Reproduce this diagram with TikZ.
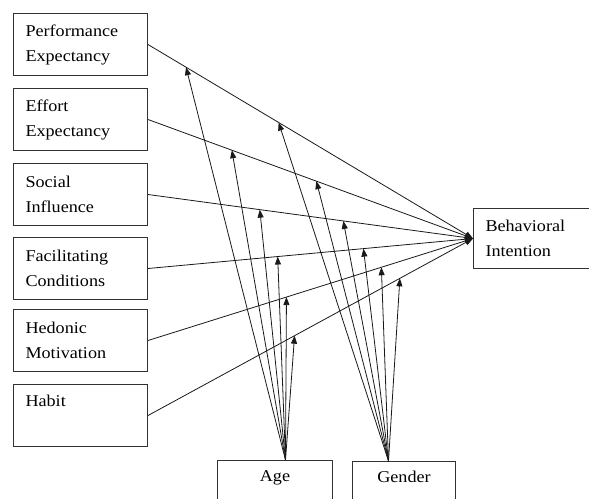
\documentclass[tikz,border=0pt]{standalone}
\usepackage{fontspec}
\setmainfont[FakeStretch=1.1]{Liberation Serif}
\usepackage{xcolor}
\definecolor{line-dark}{RGB}{25,25,25}
\definecolor{box-edge}{RGB}{50,50,50}
\usetikzlibrary{arrows.meta}

\begin{document}
\begin{tikzpicture}[
    x=1pt, y=-1pt,
    every node/.style={font=\fontsize{16.5}{25}\selectfont},
    factor/.style={
        draw=box-edge,
        line width=1pt,
        anchor=north west,
        minimum height=62pt,
        inner xsep=12pt,
        inner ysep=0pt,
        text width=110pt,
        align=left
    },
    moderator/.style={
        draw=box-edge,
        line width=1pt,
        anchor=north west,
        minimum height=60pt,
        inner ysep=0pt,
        align=center
    },
    effect/.style={
        line-dark,
        line width=0.8pt,
        -{Triangle[length=8pt,width=6pt]}
    }
]

% Page frame
\useasboundingbox (0,0) rectangle (589,498);
\clip (0,0) rectangle (589,498);

% Determinants (left column)
\node[factor] (pe) at (13,13) {Performance\\Expectancy};
\node[factor] (ee) at (13,88) {Effort\\Expectancy};
\node[factor] (si) at (13,163) {Social\\Influence};
\node[factor] (fc) at (13,237) {Facilitating\\Conditions};
\node[factor] (hm) at (13,309) {Hedonic\\Motivation};
\node[factor] (hb) at (13,384) {Habit\\\phantom{Ey}};

% Outcome
\node[factor, minimum height=60pt] (bi) at (473,208) {Behavioral\\Intention};

% Moderators (bottom, cut by the page edge)
\node[moderator, minimum width=115pt] (age) at (217,460) {Age\\\phantom{Ey}};
\node[moderator, minimum width=103pt] (gender) at (352,461) {Gender\\\phantom{Ey}};
\coordinate (age-top) at ([xshift=10.5pt]age.north);
\coordinate (gender-top) at ([xshift=-15.5pt]gender.north);

% Direct effects on intention
\draw[effect] (pe.east) -- (bi.west)
    coordinate[pos=0.117] (pe-age) coordinate[pos=0.402] (pe-gender);
\draw[effect] (ee.east) -- (bi.west)
    coordinate[pos=0.258] (ee-age) coordinate[pos=0.518] (ee-gender);
\draw[effect] (si.east) -- (bi.west)
    coordinate[pos=0.344] (si-age) coordinate[pos=0.601] (si-gender);
\draw[effect] (fc.east) -- (bi.west)
    coordinate[pos=0.399] (fc-age) coordinate[pos=0.663] (fc-gender);
\draw[effect] (hm.east) -- (bi.west)
    coordinate[pos=0.426] (hm-age) coordinate[pos=0.718] (hm-gender);
\draw[effect] (hb.east) -- (bi.west)
    coordinate[pos=0.451] (hb-age) coordinate[pos=0.775] (hb-gender);

% Moderating effects of age
\draw[effect] (age-top) -- (pe-age);
\draw[effect] (age-top) -- (ee-age);
\draw[effect] (age-top) -- (si-age);
\draw[effect] (age-top) -- (fc-age);
\draw[effect] (age-top) -- (hm-age);
\draw[effect] (age-top) -- (hb-age);

% Moderating effects of gender
\draw[effect] (gender-top) -- (pe-gender);
\draw[effect] (gender-top) -- (ee-gender);
\draw[effect] (gender-top) -- (si-gender);
\draw[effect] (gender-top) -- (fc-gender);
\draw[effect] (gender-top) -- (hm-gender);
\draw[effect] (gender-top) -- (hb-gender);

\end{tikzpicture}
\end{document}
